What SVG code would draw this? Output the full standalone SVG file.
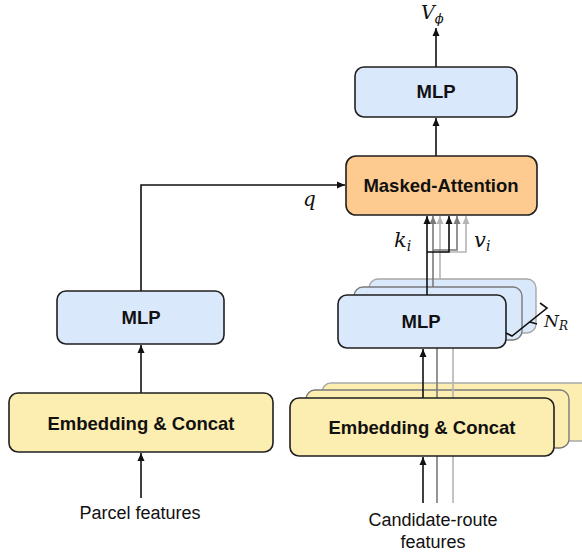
<svg xmlns="http://www.w3.org/2000/svg" width="582" height="558" viewBox="0 0 582 558">
<defs>
<style>
.box{stroke:#1f1f1f;stroke-width:1.6}
.mlp{fill:#dae8fc}
.emb{fill:#fcedb0}
.att{fill:#fdcb90}
.bk1{stroke:#7a7a7a;stroke-width:1.4}
.bk2{stroke:#a8a8a8;stroke-width:1.4}
.lbl{font-family:"Liberation Sans",Arial,sans-serif;font-weight:bold;font-size:18.5px;fill:#111;text-anchor:middle}
.txt{font-family:"Liberation Sans",Arial,sans-serif;font-size:18px;fill:#111;text-anchor:middle}
.math{font-family:"DejaVu Serif","Liberation Serif",serif;font-style:italic;font-size:21px;fill:#111}
.sub{font-size:14px}
.c{fill:none;stroke:#111;stroke-width:1.6}
.g1{fill:none;stroke:#7a7a7a;stroke-width:1.6}
.g2{fill:none;stroke:#b4b4b4;stroke-width:1.6}
</style>
<marker id="ab" viewBox="0 0 8 8" refX="8" refY="4" markerWidth="8" markerHeight="8" markerUnits="userSpaceOnUse" orient="auto"><path d="M0,0.5 L8,4 L0,7.5 z" fill="#111"/></marker>
<marker id="ag1" viewBox="0 0 8 8" refX="8" refY="4" markerWidth="8" markerHeight="8" markerUnits="userSpaceOnUse" orient="auto"><path d="M0,0.5 L8,4 L0,7.5 z" fill="#7a7a7a"/></marker>
<marker id="ag2" viewBox="0 0 8 8" refX="8" refY="4" markerWidth="8" markerHeight="8" markerUnits="userSpaceOnUse" orient="auto"><path d="M0,0.5 L8,4 L0,7.5 z" fill="#b4b4b4"/></marker>
</defs>
<rect width="582" height="558" fill="#fff"/>

<!-- back layers of stacks -->
<g id="emb-stack-back">
<rect x="322" y="383" width="270" height="58" rx="9" class="emb bk2"/>
<rect x="306" y="390" width="263" height="58" rx="9" class="emb bk1"/>
</g>
<g id="mlp-stack-back">
<rect x="369" y="279" width="167" height="54" rx="9" class="mlp bk2"/>
<rect x="354" y="287" width="168" height="53" rx="9" class="mlp bk1"/>
</g>

<g id="connectors">
<path class="g1" d="M437,503 V340"/>
<path class="g2" d="M453,503 V333"/>
<path class="c" d="M141,498 V453" marker-end="url(#ab)"/>
<path class="c" d="M141,393 V345" marker-end="url(#ab)"/>
<path class="c" d="M141,291 V185 H345" marker-end="url(#ab)"/>
<path class="c" d="M423,503 V457" marker-end="url(#ab)"/>
<path class="c" d="M423,398 V349" marker-end="url(#ab)"/>
<path class="g2" d="M440,279 V216" marker-end="url(#ag2)"/>
<path class="g2" d="M440,252 H466 V216" marker-end="url(#ag2)"/>
<path class="g1" d="M433,287 V216" marker-end="url(#ag1)"/>
<path class="g1" d="M433,250 H457 V216" marker-end="url(#ag1)"/>
<path class="c" d="M427,295 V216" marker-end="url(#ab)"/>
<path class="c" d="M427,252 H449 V216" marker-end="url(#ab)"/>
<path class="c" d="M436,156 V118" marker-end="url(#ab)"/>
<path class="c" d="M436,67 V28" marker-end="url(#ab)"/>
</g>

<g id="emb-left">
<rect x="9" y="393" width="264" height="59" rx="9" class="box emb"/>
<text x="141" y="429.5" class="lbl">Embedding &amp; Concat</text>
</g>
<g id="mlp-left">
<rect x="57" y="291" width="167" height="53" rx="9" class="box mlp"/>
<text x="141" y="324" class="lbl">MLP</text>
</g>
<g id="emb-right">
<rect x="290" y="398" width="264" height="58" rx="9" class="box emb"/>
<text x="422" y="434" class="lbl">Embedding &amp; Concat</text>
</g>
<g id="mlp-right">
<rect x="338" y="295" width="168" height="53" rx="9" class="box mlp"/>
<text x="421" y="328" class="lbl">MLP</text>
</g>
<g id="attention">
<rect x="346" y="156" width="191" height="59" rx="10" class="box att"/>
<text x="441" y="192" class="lbl">Masked-Attention</text>
</g>
<g id="mlp-top">
<rect x="355" y="67" width="162" height="50" rx="9" class="box mlp"/>
<text x="436" y="98" class="lbl">MLP</text>
</g>

<g id="brace">
<path d="M506,333 L512,336 L547,308 L540,303 M530,322 L537,324" fill="none" stroke="#111" stroke-width="1.6"/>
<text x="544" y="327" class="math" style="font-size:17px">N<tspan style="font-size:12px" dy="3">R</tspan></text>
</g>

<g id="labels">
<text x="421" y="19" class="math" style="font-size:19px">V<tspan style="font-size:13px" dy="4">ϕ</tspan></text>
<text x="303" y="206" class="math" style="font-size:20px">q</text>
<text x="394" y="247" class="math">k<tspan class="sub" dy="4">i</tspan></text>
<text x="474" y="247" class="math">v<tspan class="sub" dy="4">i</tspan></text>
<text x="140" y="519" class="txt">Parcel features</text>
<text x="433" y="526" class="txt">Candidate-route</text>
<text x="433" y="548" class="txt">features</text>
</g>
</svg>
